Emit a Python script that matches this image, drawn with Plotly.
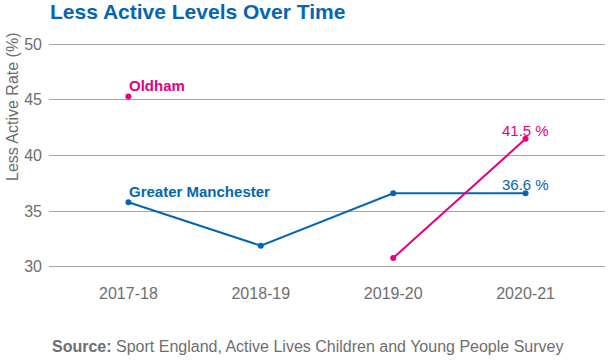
import plotly.graph_objects as go

years = ["2017-18", "2018-19", "2019-20", "2020-21"]
gm = [35.8, 31.9, 36.6, 36.6]
oldham = [45.3, None, 30.8, 41.5]
y_ticks = [30, 35, 40, 45, 50]

BLUE = "#0466B0"
PINK = "#E5007D"
GRAY = "#6E6E6E"
FONT = "Liberation Sans, Arial, sans-serif"

W, H = 612, 363
L, R, T, B = 49, 7, 43, 95
PW, PH = W - L - R, H - T - B


def px_x(x):
    return (x - L) / PW


def px_y(y):
    return (H - B - y) / PH


fig = go.Figure()
fig.add_trace(go.Scatter(x=years, y=gm, mode="lines+markers", name="Greater Manchester",
                         line=dict(color=BLUE, width=2), marker=dict(size=6, color=BLUE),
                         cliponaxis=False))
fig.add_trace(go.Scatter(x=years, y=oldham, mode="lines+markers", name="Oldham",
                         line=dict(color=PINK, width=2), marker=dict(size=6, color=PINK),
                         connectgaps=False, cliponaxis=False))

# series name labels at first point
fig.add_annotation(x=years[0], y=oldham[0], text="<b>Oldham</b>", showarrow=False,
                   xanchor="left", yanchor="bottom", xshift=-1, yshift=0,
                   font=dict(color=PINK, size=15, family=FONT))
fig.add_annotation(x=years[0], y=gm[0], text="<b>Greater Manchester</b>", showarrow=False,
                   xanchor="left", yanchor="bottom", xshift=-1, yshift=0,
                   font=dict(color=BLUE, size=15, family=FONT))
# end labels
fig.add_annotation(x=years[-1], y=oldham[-1], text=f"{oldham[-1]} %", showarrow=False,
                   xanchor="center", yanchor="bottom", yshift=-2,
                   font=dict(color=PINK, size=15, family=FONT))
fig.add_annotation(x=years[-1], y=gm[-1], text=f"{gm[-1]} %", showarrow=False,
                   xanchor="center", yanchor="bottom", yshift=-2,
                   font=dict(color=BLUE, size=15, family=FONT))

# y axis title
fig.add_annotation(x=px_x(12), y=px_y(107), xref="paper", yref="paper", text="Less Active Rate (%)",
                   textangle=-90, showarrow=False, xanchor="center", yanchor="middle",
                   font=dict(color=GRAY, size=16, family=FONT))

# source note
fig.add_annotation(x=px_x(307), y=px_y(346), xref="paper", yref="paper",
                   text="<b>Source:</b> Sport England, Active Lives Children and Young People Survey",
                   showarrow=False, xanchor="center", yanchor="middle",
                   font=dict(color=GRAY, size=16, family=FONT))

fig.update_layout(
    width=W, height=H,
    margin=dict(l=L, r=R, t=T, b=B, autoexpand=False),
    paper_bgcolor="white", plot_bgcolor="white",
    showlegend=False,
    font=dict(family=FONT, color=GRAY),
    title=dict(text="<b>Less Active Levels Over Time</b>", x=50 / W, xanchor="left",
               xref="container", y=1 - 12 / H, yanchor="middle", pad=dict(l=0, r=0, t=0, b=0),
               font=dict(color=BLUE, size=21, family=FONT)),
    xaxis=dict(type="category", range=[-0.6, 3.6], showgrid=False, showline=False,
               ticks="", ticklabelstandoff=14, tickfont=dict(size=16, color=GRAY),
               automargin=False),
    yaxis=dict(range=[29.9, 50.1], tickvals=y_ticks, showgrid=True, gridcolor="#A6A6A6",
               gridwidth=1, zeroline=False, showline=False, ticks="", ticklabelstandoff=6,
               tickfont=dict(size=16, color=GRAY), automargin=False),
)

fig.write_html("out.html", config={"displayModeBar": False},
               post_script="document.body.style.margin='0';")
